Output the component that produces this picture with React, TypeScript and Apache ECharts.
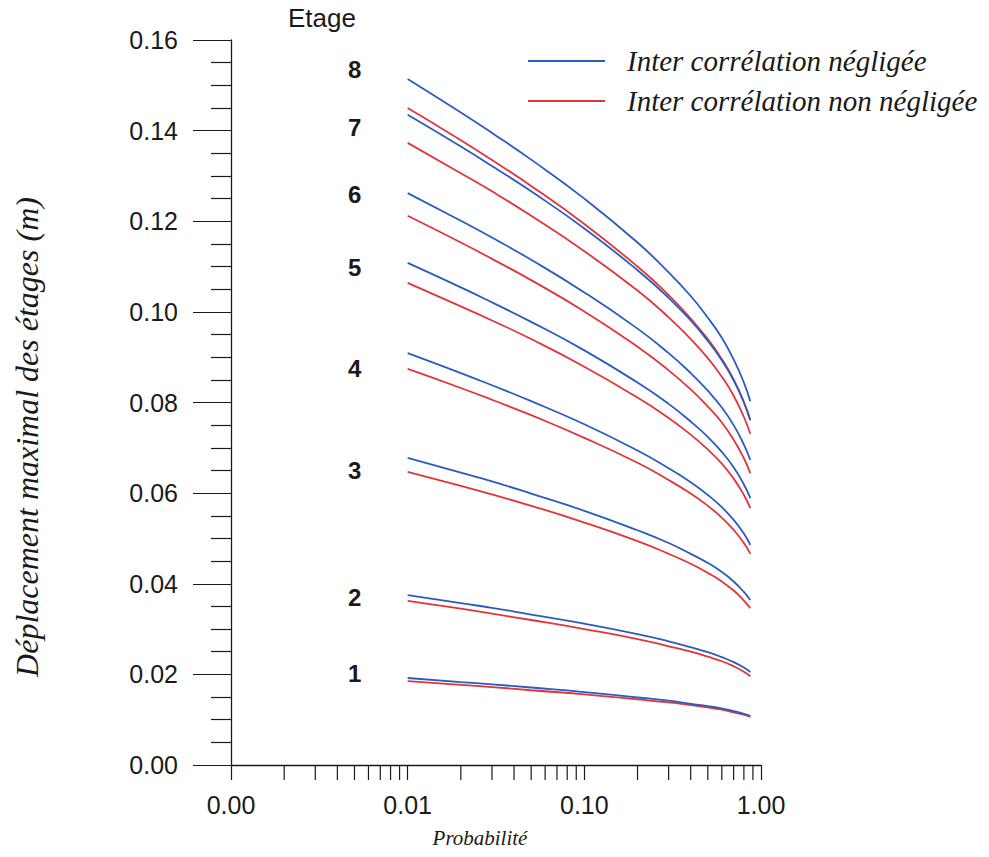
import React, { useEffect, useRef } from "react";
import * as echarts from "echarts";

// Exceedance probabilities at which each curve is sampled
const probabilities = [0.01, 0.02, 0.03, 0.05, 0.1, 0.2, 0.3, 0.4, 0.5, 0.6, 0.7, 0.8, 0.87];

// Maximum storey displacement (m), inter-correlation neglected (blue)
const neglected1 = [0.0192, 0.0183, 0.0178, 0.0171, 0.0161, 0.0149, 0.0142, 0.0135, 0.013, 0.0125, 0.0119, 0.0113, 0.0108];
const neglected2 = [0.0375, 0.0357, 0.0347, 0.0332, 0.0312, 0.0289, 0.0273, 0.026, 0.0249, 0.0238, 0.0227, 0.0215, 0.0205];
const neglected3 = [0.0678, 0.0645, 0.0626, 0.0599, 0.0561, 0.0518, 0.049, 0.0466, 0.0446, 0.0426, 0.0405, 0.0382, 0.0364];
const neglected4 = [0.0909, 0.0865, 0.0838, 0.0803, 0.0752, 0.0694, 0.0655, 0.0624, 0.0596, 0.0569, 0.0541, 0.0511, 0.0486];
const neglected5 = [0.1108, 0.1054, 0.1021, 0.0978, 0.0915, 0.0844, 0.0797, 0.0758, 0.0724, 0.0691, 0.0657, 0.0619, 0.0589];
const neglected6 = [0.1262, 0.1201, 0.1164, 0.1115, 0.1043, 0.0963, 0.0909, 0.0865, 0.0826, 0.0789, 0.075, 0.0707, 0.0673];
const neglected7 = [0.1435, 0.1365, 0.1322, 0.1266, 0.1184, 0.1092, 0.1031, 0.0981, 0.0936, 0.0893, 0.0849, 0.08, 0.0761];
const neglected8 = [0.1514, 0.144, 0.1395, 0.1336, 0.125, 0.1153, 0.1087, 0.1035, 0.0987, 0.0943, 0.0895, 0.0844, 0.0803];

// Maximum storey displacement (m), inter-correlation taken into account (red)
const kept1 = [0.0185, 0.0177, 0.0172, 0.0165, 0.0156, 0.0145, 0.0138, 0.0132, 0.0127, 0.0122, 0.0116, 0.0111, 0.0106];
const kept2 = [0.0362, 0.0345, 0.0334, 0.032, 0.03, 0.0278, 0.0262, 0.025, 0.0239, 0.0229, 0.0218, 0.0206, 0.0196];
const kept3 = [0.0647, 0.0616, 0.0597, 0.0572, 0.0535, 0.0494, 0.0466, 0.0444, 0.0424, 0.0405, 0.0385, 0.0363, 0.0346];
const kept4 = [0.0874, 0.0832, 0.0806, 0.0772, 0.0722, 0.0667, 0.0629, 0.0599, 0.0572, 0.0546, 0.0519, 0.049, 0.0466];
const kept5 = [0.1064, 0.1012, 0.0981, 0.094, 0.0879, 0.0811, 0.0766, 0.0729, 0.0696, 0.0665, 0.0632, 0.0596, 0.0567];
const kept6 = [0.1212, 0.1153, 0.1117, 0.107, 0.1001, 0.0923, 0.0871, 0.0829, 0.0791, 0.0756, 0.0718, 0.0677, 0.0644];
const kept7 = [0.1373, 0.1306, 0.1266, 0.1212, 0.1134, 0.1047, 0.0988, 0.094, 0.0898, 0.0857, 0.0815, 0.0768, 0.0731];
const kept8 = [0.145, 0.1379, 0.1335, 0.1278, 0.1194, 0.11, 0.1037, 0.0985, 0.094, 0.0896, 0.0851, 0.0801, 0.0761];

const neglectedSets = [neglected1, neglected2, neglected3, neglected4, neglected5, neglected6, neglected7, neglected8];
const keptSets = [kept1, kept2, kept3, kept4, kept5, kept6, kept7, kept8];

// Storey numbers, set at the height of each pair of curves
const storeyLabels = ["1", "2", "3", "4", "5", "6", "7", "8"];
const storeyLabelValues = [0.0203, 0.0369, 0.0651, 0.0876, 0.1097, 0.1258, 0.1408, 0.1534];

// Intermediate ticks of the logarithmic probability axis
const xMinorTicks = [
  0.002, 0.003, 0.004, 0.005, 0.006, 0.007, 0.008, 0.009,
  0.02, 0.03, 0.04, 0.05, 0.06, 0.07, 0.08, 0.09,
  0.2, 0.3, 0.4, 0.5, 0.6, 0.7, 0.8, 0.9,
];

const LEGEND_NEGLECTED = "Inter corrélation négligée";
const LEGEND_KEPT = "Inter corrélation non négligée";
const BLUE = "#2a5cc0";
const RED = "#e0363a";
const INK = "#1a1a1a";
const SANS = "'Liberation Sans', Arial, sans-serif";
const SERIF = "'Liberation Serif', 'Times New Roman', serif";

export default function App() {
  const ref = useRef<HTMLDivElement | null>(null);

  useEffect(() => {
    if (!ref.current) return;
    const chart = echarts.init(ref.current, undefined, { renderer: "svg" });

    const toPairs = (values: number[]) => probabilities.map((p, i) => [p, values[i]]);

    const makeLine = (name: string, id: string, values: number[], color: string, z: number) => ({
      name,
      id,
      type: "line",
      data: toPairs(values),
      color,
      smooth: 0.5,
      showSymbol: false,
      lineStyle: { width: 1.8, color },
      z,
    });

    const lineSeries: any[] = [
      ...keptSets.map((v, i) => makeLine(LEGEND_KEPT, "kept" + (i + 1), v, RED, 3)),
      ...neglectedSets.map((v, i) => makeLine(LEGEND_NEGLECTED, "neglected" + (i + 1), v, BLUE, 4)),
    ];

    const option: any = {
      animation: false,
      backgroundColor: "#ffffff",
      grid: { left: 231, right: 228, top: 40, bottom: 92, containLabel: false },
      legend: {
        data: [LEGEND_NEGLECTED, LEGEND_KEPT],
        orient: "vertical",
        left: 528,
        top: 45,
        padding: 0,
        icon: "rect",
        itemWidth: 77,
        itemHeight: 2,
        itemGap: 8,
        textStyle: {
          fontFamily: SERIF,
          fontStyle: "italic",
          fontSize: 29,
          color: INK,
          lineHeight: 32,
          padding: [0, 0, 0, 17],
        },
      },
      xAxis: {
        type: "log",
        logBase: 10,
        min: 0.001,
        max: 1,
        axisLine: { show: true, onZero: false, lineStyle: { color: INK, width: 1.3 } },
        axisTick: { show: true, inside: false, length: 15, lineStyle: { color: INK, width: 1.2 } },
        axisLabel: {
          margin: 27,
          fontFamily: SANS,
          fontSize: 25,
          color: INK,
          formatter: (v: number) => v.toFixed(2),
        },
        splitLine: { show: false },
      },
      yAxis: {
        type: "value",
        min: 0,
        max: 0.16,
        interval: 0.02,
        axisLine: { show: true, lineStyle: { color: INK, width: 1.3 } },
        axisTick: { show: true, inside: false, length: 38, lineStyle: { color: INK, width: 1.2 } },
        minorTick: { show: true, splitNumber: 4, length: 20, lineStyle: { color: INK, width: 1.2 } },
        axisLabel: {
          margin: 53,
          fontFamily: SANS,
          fontSize: 25,
          color: INK,
          formatter: (v: number) => v.toFixed(2),
        },
        splitLine: { show: false },
        minorSplitLine: { show: false },
      },
      series: [
        ...lineSeries,
        {
          // minor ticks of the log axis, placed through the axis scale
          type: "custom",
          id: "xMinorTicks",
          silent: true,
          clip: false,
          z: 5,
          data: xMinorTicks.map((v) => [v, 0]),
          renderItem: (_params: any, api: any) => {
            const pt = api.coord([api.value(0), 0]);
            return {
              type: "line",
              shape: { x1: pt[0], y1: pt[1], x2: pt[0], y2: pt[1] + 15 },
              style: { stroke: INK, lineWidth: 1.2 },
            };
          },
        },
        {
          // storey numbers to the left of the first point of each pair of curves
          type: "custom",
          id: "storeyLabels",
          silent: true,
          clip: false,
          z: 5,
          data: storeyLabelValues.map((v) => [0.01, v]),
          renderItem: (params: any, api: any) => {
            const pt = api.coord([api.value(0), api.value(1)]);
            return {
              type: "text",
              x: pt[0] - 53,
              y: pt[1],
              style: {
                text: storeyLabels[params.dataIndex],
                font: "bold 24px " + SANS,
                fill: INK,
                align: "center",
                verticalAlign: "middle",
              },
            };
          },
        },
      ],
      graphic: [
        {
          type: "text",
          x: 322,
          y: 18,
          style: {
            text: "Etage",
            font: "26px " + SANS,
            fill: INK,
            align: "center",
            verticalAlign: "middle",
          },
        },
        {
          type: "text",
          x: 27,
          y: 437,
          rotation: Math.PI / 2,
          style: {
            text: "Déplacement maximal des étages (m)",
            font: "italic 32px " + SERIF,
            fill: INK,
            align: "center",
            verticalAlign: "middle",
          },
        },
        {
          type: "text",
          x: 480,
          y: 838,
          style: {
            text: "Probabilité",
            font: "italic 21px " + SERIF,
            fill: INK,
            align: "center",
            verticalAlign: "middle",
          },
        },
      ],
    };

    chart.setOption(option);
    return () => chart.dispose();
  }, []);

  return (
    <div
      ref={ref}
      style={{ position: "fixed", left: 0, top: 0, width: 989, height: 857, background: "#fff" }}
    />
  );
}
